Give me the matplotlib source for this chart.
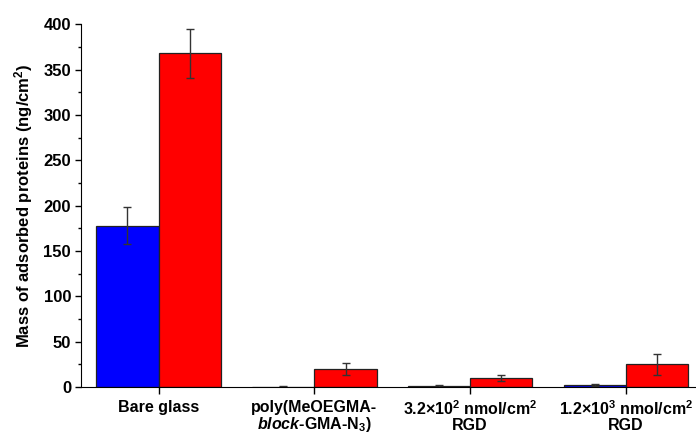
import numpy as np
import matplotlib
matplotlib.use('Agg')
import matplotlib.pyplot as plt
from matplotlib.ticker import MultipleLocator

plt.rcParams['font.family'] = ['Liberation Sans', 'DejaVu Sans']
plt.rcParams['font.weight'] = 'bold'
plt.rcParams['mathtext.fontset'] = 'custom'
plt.rcParams['mathtext.rm'] = 'Liberation Sans:bold'
plt.rcParams['mathtext.bf'] = 'Liberation Sans:bold'
plt.rcParams['mathtext.it'] = 'Liberation Sans:bold:italic'

groups = ['Bare glass',
          'poly(MeOEGMA-\n$\\it{block}$-GMA-N$_3$)',
          '3.2\u00d710$^2$ nmol/cm$^2$\nRGD',
          '1.2\u00d710$^3$ nmol/cm$^2$\nRGD']
blue_vals = [178, 0.4, 1, 2]
blue_err = [20, 0.3, 0.8, 1]
red_vals = [368, 20, 10, 25]
red_err = [27, 7, 3, 12]

x = np.arange(len(groups))
w = 0.4

fig = plt.figure(figsize=(6.96, 4.32), dpi=100)
ax = fig.add_axes([0.116, 0.104, 0.884, 0.84])

ax.bar(x - w/2, blue_vals, w, color='#0000FF', edgecolor='#222222', linewidth=0.9,
       yerr=blue_err, error_kw=dict(ecolor='#333333', elinewidth=1, capsize=3, capthick=1))
ax.bar(x + w/2, red_vals, w, color='#FF0000', edgecolor='#222222', linewidth=0.9,
       yerr=red_err, error_kw=dict(ecolor='#333333', elinewidth=1, capsize=3, capthick=1))

ax.set_xlim(-0.5, 3.45)
ax.set_ylim(0, 400)
ax.yaxis.set_major_locator(MultipleLocator(50))
ax.yaxis.set_minor_locator(MultipleLocator(25))
ax.set_xticks(x)
ax.set_xticklabels(groups, fontsize=11.5, fontweight='bold', linespacing=1.0)
ax.tick_params(axis='y', labelsize=12, length=4, width=1, pad=3)
ax.tick_params(axis='y', which='minor', length=2.5, width=1)
ax.tick_params(axis='x', length=5, width=1, pad=4)
for lab in ax.get_yticklabels():
    lab.set_fontweight('bold')

ax.spines['top'].set_visible(False)
ax.spines['right'].set_visible(False)
ax.set_ylabel('Mass of adsorbed proteins (ng/cm$^2$)', fontsize=12, fontweight='bold', labelpad=6)

fig.savefig('out.png', dpi=100)
